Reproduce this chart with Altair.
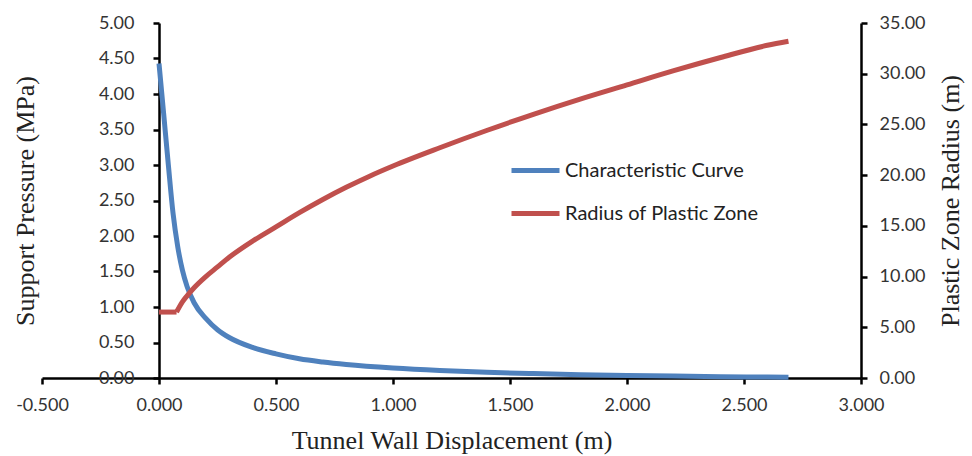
import altair as alt
import pandas as pd

# Ground reaction (characteristic) curve: support pressure vs. wall displacement
disp_cc = [0.00, 0.02, 0.04, 0.06, 0.08, 0.10, 0.12, 0.15, 0.20, 0.25, 0.30,
           0.40, 0.50, 0.60, 0.70, 0.80, 1.00, 1.20, 1.40, 1.60, 1.80, 2.00,
           2.20, 2.40, 2.60, 2.69]
pressure = [4.43, 3.72, 3.00, 2.32, 1.85, 1.52, 1.29, 1.06, 0.84, 0.68, 0.57,
            0.43, 0.34, 0.27, 0.225, 0.19, 0.14, 0.105, 0.08, 0.062, 0.047, 0.036,
            0.027, 0.019, 0.013, 0.01]

# Radius of the plastic zone vs. wall displacement
# (elastic stage: constant radius, then plastic growth)
disp_pz = [0.00, 0.04, 0.075, 0.075, 0.10, 0.12, 0.15, 0.20, 0.25, 0.30, 0.40,
           0.50, 0.60, 0.70, 0.80, 0.90, 1.00, 1.20, 1.40, 1.60, 1.80, 2.00,
           2.20, 2.40, 2.60, 2.69]
radius = [6.5, 6.5, 6.5, 6.5, 7.5, 8.1, 8.9, 10.0, 10.95, 11.9, 13.5,
          14.9, 16.3, 17.6, 18.8, 19.9, 20.9, 22.7, 24.4, 26.0, 27.5, 28.9,
          30.3, 31.6, 32.8, 33.2]
stage_pz = ["elastic"] * 3 + ["plastic"] * 23

series_names = ["Characteristic Curve", "Radius of Plastic Zone"]
series_colors = ["#4F81BD", "#C0504D"]

x_ticks = [-0.5, 0.0, 0.5, 1.0, 1.5, 2.0, 2.5, 3.0]
left_ticks = [0.0, 0.5, 1.0, 1.5, 2.0, 2.5, 3.0, 3.5, 4.0, 4.5, 5.0]
right_ticks = [0, 5, 10, 15, 20, 25, 30, 35]

cc = pd.DataFrame({"disp": disp_cc, "value": pressure, "series": series_names[0]})
pz = pd.DataFrame({"disp": disp_pz, "value": radius, "stage": stage_pz,
                   "series": series_names[1]})

LABEL_FONT = "Lato"
TITLE_FONT = "Liberation Serif"
W, H = 819, 355

axis_style = dict(
    grid=False,
    domainColor="black",
    domainWidth=2.5,
    tickColor="black",
    tickWidth=2.5,
    tickSize=6,
    labelFont=LABEL_FONT,
    labelFontSize=18,
    labelColor="#333333",
    titleFont=TITLE_FONT,
    titleFontSize=26,
    titleFontWeight="normal",
    titleColor="#222222",
)

color = alt.Color(
    "series:N",
    scale=alt.Scale(domain=series_names, range=series_colors),
    legend=alt.Legend(
        title=None,
        orient="none",
        legendX=467,
        legendY=121,
        symbolType="stroke",
        symbolSize=2304,
        symbolStrokeWidth=5,
        labelFont=LABEL_FONT,
        labelFontSize=20,
        labelColor="#222222",
        labelOffset=3,
        labelLimit=0,
        rowPadding=6,
        padding=0,
    ),
)

x_enc = alt.X(
    "disp:Q",
    scale=alt.Scale(domain=[-0.5, 3.0], nice=False, zero=False),
    axis=alt.Axis(
        values=x_ticks,
        labelExpr="replace(format(datum.value, '.3f'), '\u2212', '-')",
        labelFlush=False,
        labelPadding=12,
        title="Tunnel Wall Displacement (m)",
        titleX=W / 2,
        titleY=62,
        titleBaseline="middle",
        **axis_style,
    ),
)

left = alt.Chart(cc).mark_line(strokeWidth=5, interpolate="monotone").encode(
    x=x_enc,
    y=alt.Y(
        "value:Q",
        scale=alt.Scale(domain=[0, 5], nice=False),
        axis=alt.Axis(
            values=left_ticks,
            format=".2f",
            offset=-W * 0.5 / 3.5,
            labelFlush=False,
            labelPadding=19,
            title="Support Pressure (MPa)",
            titleX=-134,
            titleY=H / 2,
            titleBaseline="middle",
            titleAngle=270,
            **axis_style,
        ),
    ),
    color=color,
)

right = alt.Chart(pz).mark_line(strokeWidth=5, interpolate="monotone").encode(
    x=x_enc,
    y=alt.Y(
        "value:Q",
        scale=alt.Scale(domain=[0, 35], nice=False),
        axis=alt.Axis(
            orient="right",
            values=right_ticks,
            format=".2f",
            labelFlush=False,
            labelPadding=12,
            title="Plastic Zone Radius (m)",
            titleX=89,
            titleY=H / 2,
            titleBaseline="middle",
            titleAngle=270,
            **axis_style,
        ),
    ),
    color=color,
    detail="stage:N",
)

chart = (
    alt.layer(left, right)
    .resolve_scale(y="independent")
    .properties(
        width=W,
        height=H,
        autosize=alt.AutoSizeParams(type="none"),
        padding={"left": 42, "top": 23, "right": 111, "bottom": 78},
        background="white",
    )
    .configure_view(stroke=None)
)

chart.save("out.html", embed_options={"renderer": "svg", "actions": False})
